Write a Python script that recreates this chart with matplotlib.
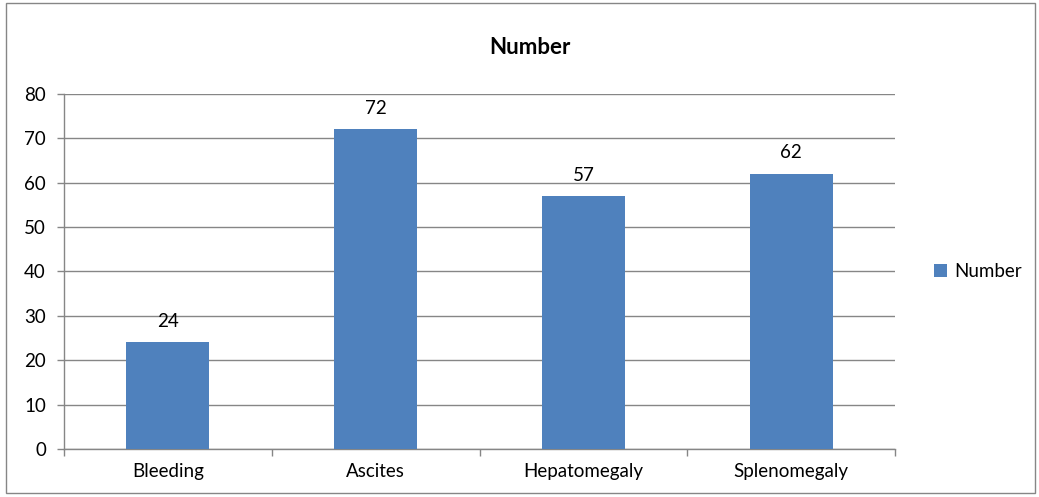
import matplotlib.pyplot as plt
from matplotlib.patches import Rectangle

categories = ['Bleeding', 'Ascites', 'Hepatomegaly', 'Splenomegaly']
values = [24, 72, 57, 62]
series_name = 'Number'

plt.rcParams['font.family'] = ['Lato', 'DejaVu Sans']

fig = plt.figure(figsize=(10.39, 4.97), dpi=100)
ax = fig.add_axes([0.0616, 0.0966, 0.8, 0.7143])

blue = '#4f81bd'
grey = '#868686'
fs = 13.5

x = list(range(len(categories)))
bars = ax.bar(x, values, width=0.4, color=blue, label=series_name, zorder=3)
for b, v in zip(bars, values):
    ax.text(b.get_x() + b.get_width() / 2, v + 2.8, str(v), ha='center', va='bottom',
            fontsize=fs, color='black')

ax.set_xlim(-0.5, len(categories) - 0.5)
ax.set_ylim(0, 80)
ax.set_yticks(range(0, 81, 10))
ax.yaxis.grid(True, color=grey, linewidth=1, zorder=0)
ax.set_xticks(x)
ax.set_xticklabels(categories, fontsize=fs)
ax.set_xticks([i - 0.5 for i in range(len(categories) + 1)], minor=True)
ax.tick_params(axis='x', which='major', length=0, pad=10)
ax.tick_params(axis='x', which='minor', length=5, color=grey, width=1)
ax.tick_params(axis='y', length=5, color=grey, width=1, labelsize=fs, pad=8)

for side in ['top', 'right']:
    ax.spines[side].set_visible(False)
for side in ['left', 'bottom']:
    ax.spines[side].set_color(grey)
    ax.spines[side].set_linewidth(1)

fig.text(0.51, 0.905, series_name, ha='center', va='center', fontsize=16, fontweight='bold')

ax.legend(loc='center left', bbox_to_anchor=(1.038, 0.5), frameon=False, fontsize=fs,
          handlelength=0.7, handleheight=0.7, handletextpad=0.35, borderaxespad=0)

fig.patches.append(Rectangle((0.006, 0.008), 0.99, 0.985, transform=fig.transFigure,
                             fill=False, edgecolor=grey, linewidth=1))

fig.savefig('out.png', dpi=100)
